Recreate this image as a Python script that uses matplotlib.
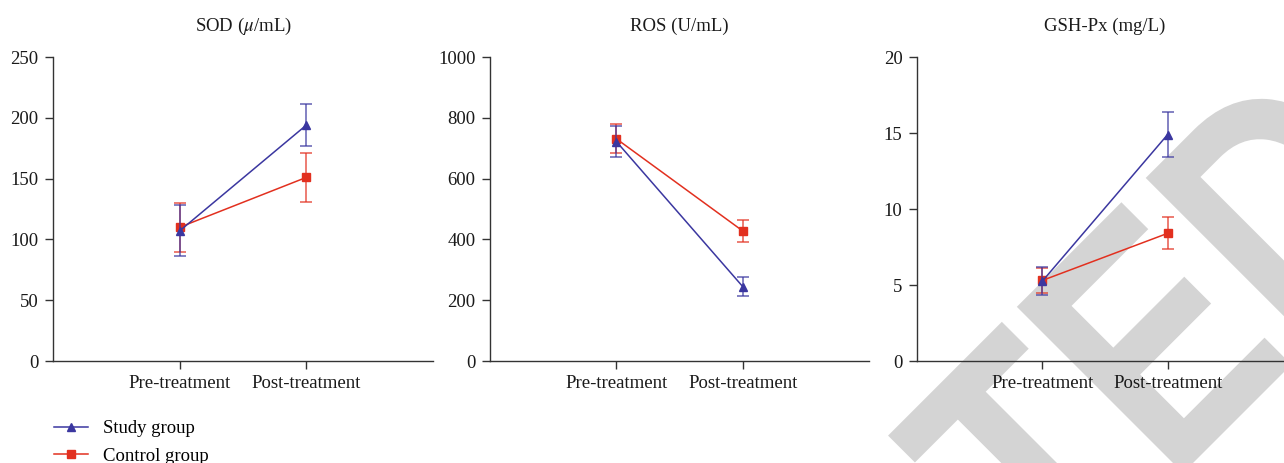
import matplotlib
matplotlib.use('Agg')
import matplotlib.pyplot as plt
import matplotlib.transforms as mtransforms
from matplotlib.lines import Line2D
from matplotlib.textpath import TextPath
from matplotlib.patches import PathPatch
from matplotlib.font_manager import FontProperties

plt.rcParams['font.family'] = ['Liberation Serif', 'DejaVu Serif']
plt.rcParams['mathtext.fontset'] = 'stix'

# data
stages = ['Pre-treatment', 'Post-treatment']
titles = [r'SOD ($\mu$/mL)', 'ROS (U/mL)', 'GSH-Px (mg/L)']
y_max = [250, 1000, 20]
y_step = [50, 200, 5]

study_mean = [[107, 194], [722, 245], [5.25, 14.9]]
study_err = [[21, 17], [50, 30], [0.93, 1.45]]
control_mean = [[110, 151], [731, 428], [5.3, 8.4]]
control_err = [[20, 20], [48, 37], [0.85, 1.05]]

blue = '#3b37a0'
red = '#e2301f'
fs = 13.5

fig = plt.figure(figsize=(12.84, 4.63), dpi=100)

# retraction stamp behind the panels
fp = FontProperties(family='Liberation Sans', weight='bold')
e_ext = TextPath((0, 0), 'E', size=100, prop=fp).get_extents()
size = 235 / (e_ext.height / 100)
word = TextPath((0, 0), 'RETRACTED', size=size, prop=fp)
upto_e = TextPath((0, 0), 'RETRACTE', size=size, prop=fp).get_extents()
e_left = upto_e.x1 - e_ext.width * size / 100
stamp = mtransforms.Affine2D().translate(-e_left, 0).scale(0.8, 1).rotate_deg(45).translate(1183, 463 - 473)
patch = PathPatch(stamp.transform_path(word), facecolor='#d4d4d4', edgecolor='none',
                  transform=mtransforms.IdentityTransform(), zorder=-5)
fig.add_artist(patch)

lefts = [53, 490, 917]
widths = [380, 379, 376]
bottom = 1 - 361 / 463
height = (361 - 57) / 463
x = [1, 2]

for i in range(3):
    ax = fig.add_axes([lefts[i] / 1284, bottom, widths[i] / 1284, height])
    ax.set_facecolor('none')
    ax.errorbar(x, control_mean[i], yerr=control_err[i], fmt='none', ecolor=red,
                elinewidth=1.1, capsize=4, capthick=1.1, alpha=0.8)
    ax.plot(x, control_mean[i], color=red, lw=1.1, marker='s', ms=5.5)
    ax.errorbar(x, study_mean[i], yerr=study_err[i], fmt='none', ecolor=blue,
                elinewidth=1.1, capsize=4, capthick=1.1, alpha=0.8)
    ax.plot(x, study_mean[i], color=blue, lw=1.1, marker='^', ms=6)
    ax.set_xlim(0, 3)
    ax.set_ylim(0, y_max[i])
    ax.set_yticks(range(0, y_max[i] + 1, y_step[i]))
    ax.set_xticks(x)
    ax.set_xticklabels(stages)
    ax.set_title(titles[i], fontsize=fs, pad=19, color='#1a1a1a')
    for s in ['top', 'right']:
        ax.spines[s].set_visible(False)
    for s in ['left', 'bottom']:
        ax.spines[s].set_color('#333333')
        ax.spines[s].set_linewidth(1.0)
    ax.tick_params(axis='both', direction='out', length=5.5, width=1.0, color='#333333',
                   labelsize=fs, labelcolor='#1a1a1a')
    ax.tick_params(axis='y', pad=5)
    ax.tick_params(axis='x', pad=4.5)

handles = [Line2D([], [], color=blue, lw=1.1, marker='^', ms=6),
           Line2D([], [], color=red, lw=1.1, marker='s', ms=5.5)]
fig.legend(handles, ['Study group', 'Control group'], loc='upper left',
           bbox_to_anchor=(54 / 1284, 1 - 420 / 463), frameon=False, fontsize=fs,
           handlelength=1.8, handletextpad=0.8, labelspacing=0.55,
           borderpad=0, borderaxespad=0)

plt.savefig('out.png', dpi=100)
print("Chart saved.")
